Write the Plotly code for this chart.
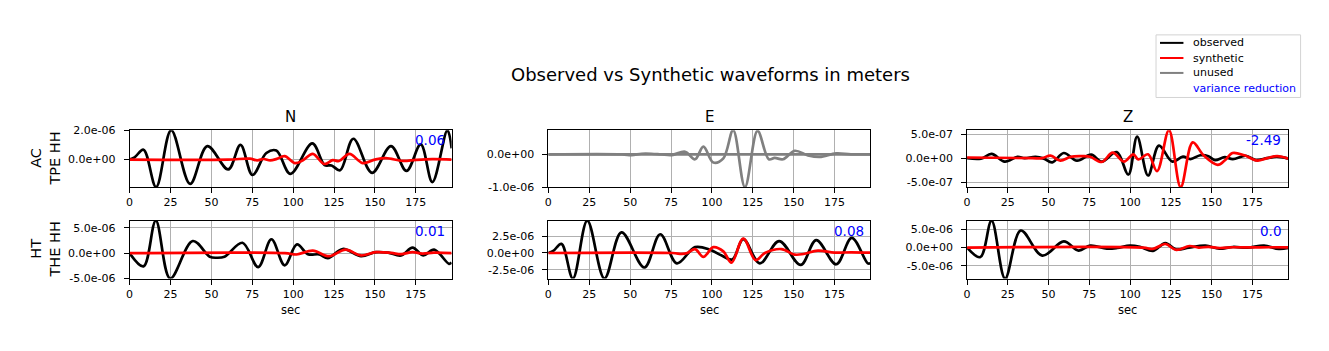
import numpy as np
import plotly.graph_objects as go

# ---------------- data (amplitudes in micrometres, times in sec) ----------------
t_n_ac_obs = [0, 3, 8.5, 16.2, 25.4, 37, 47.5, 60.3, 67.8, 75.1, 83.6, 89.7, 98.3, 111.7, 119.2, 123.5, 128.7, 136.8, 148.2, 159.8, 169.3, 178, 185.1, 194.3, 196.9]
v_n_ac_obs = [0, 0.15, 0.67, -1.87, 2.0, -1.66, 0.92, -0.67, 1.0, -1.05, 0.45, 0.62, -0.97, 1.1, -0.37, -0.4, -0.73, 1.42, -0.9, 0.92, -0.77, 1.03, -1.53, 2.0, 0.77]
t_n_ac_syn = [0, 60, 73.5, 78, 82, 86, 90, 94.8, 101, 106, 112, 119, 124.2, 128, 134.4, 142.5, 150, 156.7, 167, 175, 185, 196.9]
v_n_ac_syn = [0, 0, 0.06, -0.05, 0.04, -0.06, 0.05, 0.24, -0.24, -0.05, 0.39, -0.3, -0.04, -0.1, 0.39, -0.24, 0.0, 0.1, -0.09, -0.02, 0.03, 0.0]

t_e_ac_obs = [0, 45, 51, 57, 63, 69, 75.5, 83.6, 89.7, 94.8, 100.9, 107, 113, 120.2, 127.9, 134.8, 138.4, 143.5, 150.6, 158.7, 165.9, 176, 185, 196.9]
v_e_ac_obs = [0, 0, -0.02, 0.02, 0.02, 0, -0.02, 0.08, -0.15, 0.24, -0.25, -0.12, 0.74, -1.0, 0.72, -0.15, -0.11, -0.15, 0.11, -0.03, -0.08, 0.03, 0.0, 0.0]
t_e_ac_syn = [0, 196.9]
v_e_ac_syn = [0, 0]

t_z_ac_obs = [0, 8.5, 15, 23.1, 30.9, 35.3, 42, 47.1, 52.2, 59.3, 67.4, 76.1, 82.6, 91.8, 98.9, 104.3, 111, 117.7, 125.9, 132.4, 137, 143, 148, 152, 158, 163, 171, 177, 184, 190, 196.9]
v_z_ac_obs = [0, -0.01, 0.087, -0.073, 0.027, 0.0, 0.027, -0.01, -0.087, 0.107, -0.053, 0.073, -0.073, 0.127, -0.34, 0.447, -0.36, 0.26, -0.073, 0.03, -0.02, 0.06, 0.04, -0.04, 0.02, -0.02, 0.05, -0.04, 0.0, 0.03, -0.01]
t_z_ac_syn = [0, 40, 46, 51.2, 57.2, 63.4, 70, 75.5, 82.6, 89.3, 96.2, 101.9, 105, 111, 116.5, 123.8, 131, 138.4, 145, 153.7, 158, 162.8, 170, 178, 184, 190.2, 196.9]
v_z_ac_syn = [0.013, 0.0, 0.0, 0.053, -0.053, 0.027, 0.04, 0.03, -0.08, 0.113, -0.073, 0.08, -0.027, 0.08, -0.27, 0.58, -0.6, 0.327, 0.06, -0.14, -0.05, 0.107, 0.06, -0.053, 0.0, 0.04, -0.01]

t_n_ht_obs = [0, 8.5, 16, 24.8, 38.6, 49, 53, 58, 69, 78.6, 86.7, 94.8, 102.3, 109, 116, 121.2, 130.3, 141.5, 150.6, 158, 166, 173, 179.5, 186.2, 195.3, 196.9]
v_n_ht_obs = [0, -2.6, 6.4, -5.0, 2.4, -0.7, -0.9, -0.7, 2.05, -2.75, 2.75, -2.4, 1.73, -0.2, -0.25, -1.0, 0.83, -0.58, 0.2, 0.1, -0.45, 1.1, -0.45, 0.7, -2.1, -1.85]
t_n_ht_syn = [0, 95, 102, 112, 122, 132, 141.5, 150.6, 160, 166, 173, 179, 186, 196.9]
v_n_ht_syn = [0, 0, -0.26, 0.5, -0.6, 0.7, -0.45, 0.2, 0.05, -0.2, 0.2, -0.1, 0.1, 0]

t_e_ht_obs = [0, 3, 8, 15, 23.8, 34.3, 44.7, 58.7, 68.4, 78.6, 89.7, 98.9, 106, 112.5, 119.2, 129.3, 141.1, 154.3, 163.8, 176, 185.5, 195.3, 196.9]
v_e_ht_obs = [0, 0.3, 1.35, -3.8, 4.8, -3.8, 3.08, -2.16, 2.79, -1.54, 0.87, 0.48, -0.38, -0.96, 2.07, -1.54, 1.78, -1.78, 1.92, -1.68, 2.26, -1.54, -1.54]
t_e_ht_syn = [0, 76, 81.6, 85, 89.7, 94.8, 100.9, 107, 112, 119.2, 126.7, 132.4, 142.5, 150.6, 156, 164.8, 175, 185, 196.9]
v_e_ht_syn = [0, 0, -0.14, 0.0, 0.58, -0.58, 0.87, 0.24, -1.44, 2.16, -1.06, 0.0, 0.58, -0.24, -0.15, 0.34, 0.05, 0.1, 0.05]

t_z_ht_obs = [0, 8.1, 15, 23.3, 32.9, 46.1, 59.3, 68.4, 75.5, 85.7, 92, 99.9, 106, 114.1, 121.6, 128.3, 136, 146.2, 154.7, 163, 172, 182.1, 191.2, 196.9]
v_z_ht_obs = [0, -2.6, 7.4, -8.5, 4.7, -2.2, 1.7, -0.8, 0.54, -0.27, -0.1, 0.54, 0.2, -0.9, 1.26, -0.54, 0.0, 0.54, -0.27, 0.18, 0.0, 0.54, -0.36, -0.1]
t_z_ht_syn = [0, 108, 114, 121.6, 128.3, 136.4, 142, 148, 155, 163, 175, 185, 196.9]
v_z_ht_syn = [0, 0, -0.36, 1.0, -0.63, 0.45, 0.0, 0.2, -0.1, 0.1, 0.05, 0.1, 0.05]

components = ["N", "E", "Z"]
stations = ["AC<br>TPE HH", "HT<br>THE HH"]
var_red = [["0.06", None, "-2.49"], ["0.01", "0.08", "0.0"]]
used = [[True, False, True], [True, True, True]]

legend_labels = ["observed", "synthetic", "unused", "variance reduction"]
legend_colors = ["black", "red", "gray", None]

x_ticks = [0, 25, 50, 75, 100, 125, 150, 175]
y_tickvals = [
    [[0, 2e-6], [-1e-6, 0], [-5e-7, 0, 5e-7]],
    [[-5e-6, 0, 5e-6], [-2.5e-6, 0, 2.5e-6], [-5e-6, 0, 5e-6]],
]
y_ticktext = [
    [["0.0e+00", "2.0e-06"], ["-1.0e-06", "0.0e+00"], ["-5.0e-07", "0.0e+00", "5.0e-07"]],
    [["-5.0e-06", "0.0e+00", "5.0e-06"], ["-2.5e-06", "0.0e+00", "2.5e-06"], ["-5.0e-06", "0.0e+00", "5.0e-06"]],
]
y_ranges = [
    [[-1.87e-6, 2.0e-6], [-1.0e-6, 0.74e-6], [-6.0e-7, 5.8e-7]],
    [[-5.0e-6, 6.4e-6], [-3.8e-6, 4.8e-6], [-8.5e-6, 7.4e-6]],
]

series = [
    [(t_n_ac_obs, v_n_ac_obs, t_n_ac_syn, v_n_ac_syn),
     (t_e_ac_obs, v_e_ac_obs, t_e_ac_syn, v_e_ac_syn),
     (t_z_ac_obs, v_z_ac_obs, t_z_ac_syn, v_z_ac_syn)],
    [(t_n_ht_obs, v_n_ht_obs, t_n_ht_syn, v_n_ht_syn),
     (t_e_ht_obs, v_e_ht_obs, t_e_ht_syn, v_e_ht_syn),
     (t_z_ht_obs, v_z_ht_obs, t_z_ht_syn, v_z_ht_syn)],
]

# ---------------- layout geometry ----------------
W, H = 1329, 351
col_px = [(126, 449), (546, 869), (966, 1288)]
row_px = [(129, 188), (223, 283)]
FONT = "DejaVu Sans"

fig = go.Figure()
layout = dict(
    width=W, height=H, margin=dict(l=0, r=0, t=0, b=0),
    plot_bgcolor="white", paper_bgcolor="white",
    font=dict(family=FONT, color="black"),
    showlegend=False,
)
annotations = []
shapes = []

idx = 0
for r in range(2):
    for c in range(3):
        idx += 1
        xa = "x" if idx == 1 else f"x{idx}"
        ya = "y" if idx == 1 else f"y{idx}"
        to, vo, ts, vs = series[r][c]
        if used[r][c]:
            obs_col, syn_col, obs_name, syn_name = "black", "red", "observed", "synthetic"
        else:
            obs_col, syn_col, obs_name, syn_name = "gray", "gray", "unused", "unused"
        fig.add_trace(go.Scatter(
            x=to, y=np.array(vo) * 1e-6, mode="lines", name=obs_name,
            line=dict(color=obs_col, width=2.7, shape="spline", smoothing=1.0),
            xaxis=xa, yaxis=ya))
        fig.add_trace(go.Scatter(
            x=ts, y=np.array(vs) * 1e-6, mode="lines", name=syn_name,
            line=dict(color=syn_col, width=2.7, shape="spline", smoothing=1.0),
            xaxis=xa, yaxis=ya))

        x0, x1 = col_px[c]
        y0, y1 = row_px[r]
        common = dict(showline=True, linecolor="black", linewidth=1, mirror=True,
                      showgrid=True, gridcolor="#b0b0b0", gridwidth=1, zeroline=False,
                      ticks="outside", ticklen=5, tickcolor="black",
                      tickfont=dict(family=FONT, size=11, color="black"))
        layout["xaxis" if idx == 1 else f"xaxis{idx}"] = dict(
            domain=[x0 / W, x1 / W], range=[0, 196.9], tickvals=x_ticks,
            anchor=ya, **common)
        layout["yaxis" if idx == 1 else f"yaxis{idx}"] = dict(
            domain=[1 - y1 / H, 1 - y0 / H], range=y_ranges[r][c],
            tickvals=y_tickvals[r][c], ticktext=y_ticktext[r][c],
            anchor=xa, ticklabelstandoff=6, **common)

        if var_red[r][c] is not None:
            annotations.append(dict(
                text=var_red[r][c], xref=f"{xa} domain", yref=f"{ya} domain",
                x=0.985, y=0.83, xanchor="right", yanchor="middle", showarrow=False,
                font=dict(family=FONT, size=13.5, color="blue")))
        if r == 0:
            annotations.append(dict(
                text=components[c], xref="paper", yref="paper",
                x=(x0 + x1) / 2 / W, y=1 - 115.5 / H, xanchor="center", yanchor="middle",
                showarrow=False, font=dict(family=FONT, size=15, color="black")))
        if r == 1:
            annotations.append(dict(
                text="sec", xref="paper", yref="paper",
                x=(x0 + x1) / 2 / W, y=1 - 316 / H, xanchor="center", yanchor="middle",
                showarrow=False, font=dict(family=FONT, size=11.5, color="black")))
    annotations.append(dict(
        text=stations[r], xref="paper", yref="paper", textangle=-90,
        x=42 / W, y=1 - (row_px[r][0] + row_px[r][1]) / 2 / H,
        xanchor="center", yanchor="middle", showarrow=False,
        font=dict(family=FONT, size=14.5, color="black")))

annotations.append(dict(
    text="Observed vs Synthetic waveforms in meters", xref="paper", yref="paper",
    x=709 / W, y=1 - 71 / H, xanchor="center", yanchor="middle", showarrow=False,
    font=dict(family=FONT, size=18, color="black")))

# ---------------- legend box (drawn like matplotlib's) ----------------
shapes.append(dict(type="rect", xref="paper", yref="paper",
                   x0=1155.5 / W, x1=1300.5 / W, y0=1 - 95 / H, y1=1 - 30 / H,
                   line=dict(color="#d3d3d3", width=1), fillcolor="white"))
legend_rows = [38.3, 54.0, 69.5, 85.3]
for lab, col, yy in zip(legend_labels, legend_colors, legend_rows):
    if col is not None:
        shapes.append(dict(type="line", xref="paper", yref="paper",
                           x0=1159.5 / W, x1=1183 / W, y0=1 - yy / H, y1=1 - yy / H,
                           line=dict(color=col, width=2)))
    annotations.append(dict(
        text=lab, xref="paper", yref="paper", x=1191 / W, y=1 - yy / H,
        xanchor="left", yanchor="middle", showarrow=False,
        font=dict(family=FONT, size=11, color="blue" if col is None else "black")))

layout["annotations"] = annotations
layout["shapes"] = shapes
fig.update_layout(**layout)
fig.write_html("out.html")
